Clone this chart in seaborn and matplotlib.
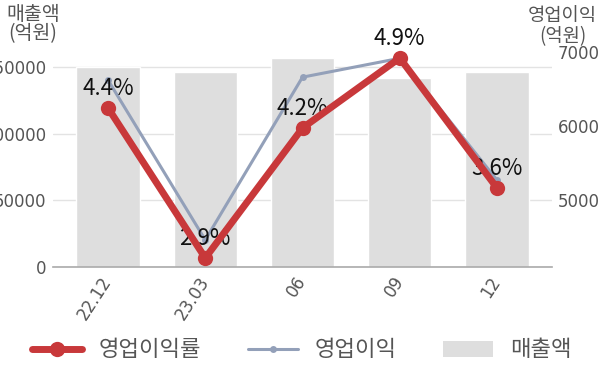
import numpy as np
import pandas as pd
import matplotlib
matplotlib.use("Agg")
import matplotlib.pyplot as plt
import seaborn as sns
from matplotlib.lines import Line2D
from matplotlib.patches import Patch

periods = ["22.12", "23.03", "06", "09", "12"]
sales = [150000, 146400, 157000, 142000, 146400]          # 매출액 (억원)
op_profit = [6620, 4460, 6660, 6915, 5270]                 # 영업이익 (억원)
op_margin = [4.4, 2.9, 4.2, 4.9, 3.6]                      # 영업이익률 (%)
margin_labels = ["4.4%", "2.9%", "4.2%", "4.9%", "3.6%"]

sns.set_theme(style="white")
FONT = ["Noto Sans CJK KR", "DejaVu Sans"]
NUMFONT = ["DejaVu Sans"]
plt.rcParams["font.family"] = FONT

df = pd.DataFrame({"period": periods, "idx": np.arange(len(periods)),
                   "sales": sales, "op": op_profit, "margin": op_margin})

RED = "#c8383a"
BLUE = "#93a0b9"
BAR = "#dedede"
GRID = "#e3e3e3"
TXT = "#555555"

fig = plt.figure(figsize=(6, 3.83), dpi=100)
ax = fig.add_axes([53/600, 1-267/383, 499/600, (267-45)/383])

sns.barplot(data=df, x="period", y="sales", color=BAR, width=0.65,
            saturation=1, ax=ax, zorder=2)
ax.set_xlim(-0.566, 4.566)
ax.set_ylim(0, 50000 * (267-45) / 66.7)
ax.set_yticks([0, 50000, 100000, 150000])
ax.set_yticklabels(["0", "50000", "100000", "150000"])
ax.grid(axis="y", color=GRID, linewidth=1, zorder=0)
ax.set_axisbelow(True)
for s in ["top", "left", "right"]:
    ax.spines[s].set_visible(False)
ax.spines["bottom"].set_color("#aaaaaa")
ax.spines["bottom"].set_linewidth(1.2)
ax.tick_params(axis="y", length=0, pad=5, labelsize=12, labelcolor=TXT)
ax.tick_params(axis="x", length=0, pad=8, labelsize=12, labelcolor=TXT)
ax.set_xlabel("")
ax.set_ylabel("")
for lab in ax.get_xticklabels() + ax.get_yticklabels():
    lab.set_family(NUMFONT)
for lab in ax.get_xticklabels():
    lab.set_rotation(57)
    lab.set_ha("right")
    lab.set_va("center")
    lab.set_rotation_mode("anchor")

# right axis: 영업이익
ax2 = ax.twinx()
px_per_k = 74.0
lo = 5000 - (267-200) / px_per_k * 1000
hi = 5000 + (200-45) / px_per_k * 1000
sns.lineplot(data=df, x="idx", y="op", ax=ax2, color=BLUE, linewidth=2.2,
             marker="o", markersize=5, markeredgewidth=0, zorder=3)
ax2.set_ylim(lo, hi)
ax2.set_yticks([5000, 6000, 7000])
ax2.tick_params(axis="y", length=0, pad=4, labelsize=12, labelcolor=TXT)
for lab in ax2.get_yticklabels():
    lab.set_family(NUMFONT)
ax2.set_ylabel("")
ax2.set_xlabel("")
for s in ax2.spines.values():
    s.set_visible(False)

# hidden axis: 영업이익률
ax3 = ax.twinx()
sns.lineplot(data=df, x="idx", y="margin", ax=ax3, color=RED, linewidth=5,
             marker="o", markersize=11, markeredgewidth=0, zorder=4)
ax3.set_ylim(4.4 - (267-108) / 100, 4.4 + (108-45) / 100)
ax3.set_yticks([])
ax3.set_ylabel("")
ax3.set_xlabel("")
for s in ax3.spines.values():
    s.set_visible(False)
for i, (v, t) in enumerate(zip(op_margin, margin_labels)):
    ax3.annotate(t, (i, v), xytext=(0, 14), textcoords="offset points",
                 ha="center", va="center", fontsize=16, color="#111111",
                 family=FONT)
ax.set_xlim(-0.566, 4.566)

fig.text(33/600, 1-15/383, "매출액", ha="center", va="center", fontsize=14, color=TXT)
fig.text(33/600, 1-34/383, "(억원)", ha="center", va="center", fontsize=14, color=TXT)
fig.text(562/600, 1-16/383, "영업이익", ha="center", va="center", fontsize=13.5, color=TXT)
fig.text(563/600, 1-37/383, "(억원)", ha="center", va="center", fontsize=13.5, color=TXT)

handles = [Line2D([], [], color=RED, linewidth=5, marker="o", markersize=11, markeredgewidth=0),
           Line2D([], [], color=BLUE, linewidth=2.2, marker="o", markersize=5, markeredgewidth=0),
           Patch(facecolor=BAR, edgecolor="none")]
fig.legend(handles, ["영업이익률", "영업이익", "매출액"], loc="center",
           bbox_to_anchor=(302/600, 1-350/383), ncol=3, frameon=False,
           fontsize=16, handlelength=2.25, handletextpad=0.75, columnspacing=2.1,
           labelcolor=TXT)

fig.savefig("out.png", dpi=100)
